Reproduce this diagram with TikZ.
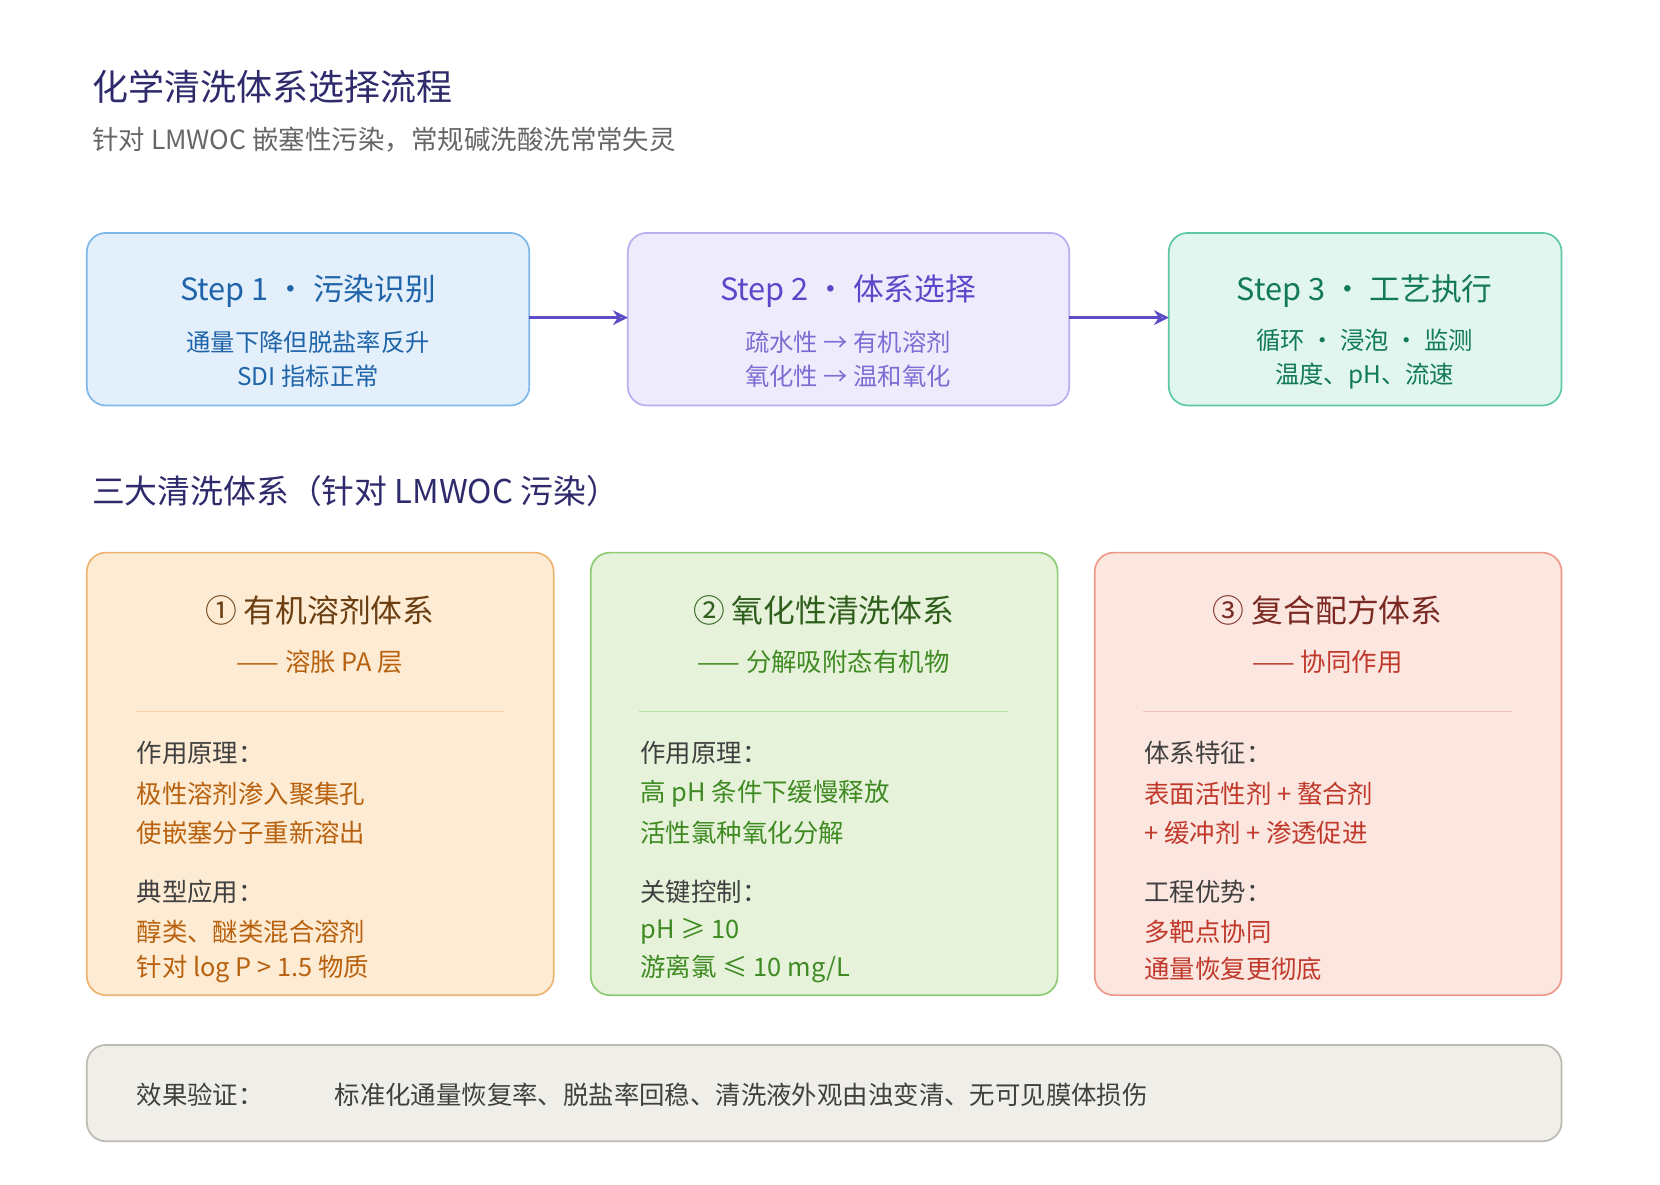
\documentclass[tikz,border=0pt]{standalone}
\usepackage{fontspec}
\setmainfont{Noto Sans CJK SC}
\usetikzlibrary{arrows.meta}
\definecolor{navy}{HTML}{2E2A6B}
\definecolor{gr}{HTML}{666666}
\definecolor{aF}{HTML}{E3F0FC}\definecolor{aD}{HTML}{7DB8E8}\definecolor{aT}{HTML}{1F64A8}
\definecolor{bF}{HTML}{EEEBFD}\definecolor{bD}{HTML}{B9AEF0}\definecolor{bT}{HTML}{5B47C8}
\definecolor{cF}{HTML}{E0F6EE}\definecolor{cD}{HTML}{5CC9A0}\definecolor{cT}{HTML}{127A56}
\definecolor{arr}{HTML}{5B4BC4}
\definecolor{oF}{HTML}{FDEBD3}\definecolor{oD}{HTML}{EDB472}\definecolor{oT}{HTML}{B8610E}\definecolor{oH}{HTML}{6B3F12}
\definecolor{gF}{HTML}{E6F3DA}\definecolor{gD}{HTML}{8DCB75}\definecolor{gT}{HTML}{3F8A22}\definecolor{gH}{HTML}{2F5E1C}
\definecolor{rF}{HTML}{FCE6E0}\definecolor{rD}{HTML}{EE9A8A}\definecolor{rT}{HTML}{C0392B}\definecolor{rH}{HTML}{7A2A22}
\definecolor{eF}{HTML}{F0EEE8}\definecolor{eD}{HTML}{BDBAB2}
\begin{document}
\begin{tikzpicture}[x=0.5pt,y=-0.5pt,
 box/.style={rounded corners=9pt,line width=0.8pt},
 stt/.style={font=\fontsize{14.5}{16}\selectfont},
 stb/.style={font=\fontsize{11.5}{16}\selectfont,align=center},
 ct/.style={font=\fontsize{15}{18}\selectfont},
 cs/.style={font=\fontsize{12}{14}\selectfont},
 lb/.style={font=\fontsize{12}{14}\selectfont,anchor=west,text=black!75},
 ar/.style={-{Stealth[length=7pt,width=7pt,open]},line width=1.2pt,draw=arr}]
\useasboundingbox (0,0) rectangle (1568,1119);
\node[anchor=west,text=navy,font=\fontsize{17}{20}\selectfont] (title) at (80,82) {化学清洗体系选择流程};
\node[anchor=west,text=gr,font=\fontsize{12.5}{15}\selectfont] (sub) at (80,132) {针对 LMWOC 嵌塞性污染，常规碱洗酸洗常常失灵};
% steps
\draw[box,fill=aF,draw=aD] (82,220) rectangle (500,383);
\node[stt,text=aT] (s1) at (291,275) {Step 1 · 污染识别};
\node[stb,text=aT] (s1b) at (291,339) {通量下降但脱盐率反升\\SDI 指标正常};
\draw[box,fill=bF,draw=bD] (593,220) rectangle (1010,383);
\node[stt,text=bT] (s2) at (801,275) {Step 2 · 体系选择};
\node[stb,text=bT!80] (s2b) at (801,339) {疏水性 → 有机溶剂\\氧化性 → 温和氧化};
\draw[box,fill=cF,draw=cD] (1104,220) rectangle (1475,383);
\node[stt,text=cT] (s3) at (1289,275) {Step 3 · 工艺执行};
\node[stb,text=cT] (s3b) at (1289,339) {循环 · 浸泡 · 监测\\温度、pH、流速};
\coordinate (a1) at (500,300);\coordinate (a2) at (593,300);
\coordinate (a3) at (1010,300);\coordinate (a4) at (1104,300);
\draw[ar] (a1) -- (a2); \draw[ar] (a3) -- (a4);
\node[anchor=west,text=navy,font=\fontsize{15.5}{18}\selectfont] (sec) at (80,464) {三大清洗体系（针对 LMWOC 污染）};
% cards
\foreach \x/\F/\D/\T/\H/\t/\s/\la/\lb/\lc/\ld/\le/\lf in {
 82/oF/oD/oT/oH/{① 有机溶剂体系}/{—— 溶胀 PA 层}/{作用原理：}/{极性溶剂渗入聚集孔}/{使嵌塞分子重新溶出}/{典型应用：}/{醇类、醚类混合溶剂}/{针对 log P > 1.5 物质},
 558/gF/gD/gT/gH/{② 氧化性清洗体系}/{—— 分解吸附态有机物}/{作用原理：}/{高 pH 条件下缓慢释放}/{活性氯种氧化分解}/{关键控制：}/{pH ≥ 10}/{游离氯 ≤ 10 mg/L},
 1034/rF/rD/rT/rH/{③ 复合配方体系}/{—— 协同作用}/{体系特征：}/{表面活性剂 + 螯合剂}/{+ 缓冲剂 + 渗透促进}/{工程优势：}/{多靶点协同}/{通量恢复更彻底}}{
 \draw[box,fill=\F,draw=\D] (\x,522) rectangle ++(441,418);
 \node[ct,text=\H] at (\x+220,577) {\t};
 \node[cs,text=\T] at (\x+220,625) {\s};
 \draw[\D!60,line width=0.8pt] (\x+46,672) -- (\x+394,672);
 \node[lb] at (\x+40,711) {\la};
 \node[lb,text=\T] at (\x+40,750) {\lb};
 \node[lb,text=\T] at (\x+40,787) {\lc};
 \node[lb] at (\x+40,842) {\ld};
 \node[lb,text=\T] at (\x+40,880) {\le};
 \node[lb,text=\T] at (\x+40,915) {\lf};
}
\draw[box,fill=eF,draw=eD] (82,987) rectangle (1475,1078);
\node[lb] (ev) at (122,1034) {效果验证：};
\node[lb] (evt) at (309,1034) {标准化通量恢复率、脱盐率回稳、清洗液外观由浊变清、无可见膜体损伤};
\end{tikzpicture}
\end{document}
